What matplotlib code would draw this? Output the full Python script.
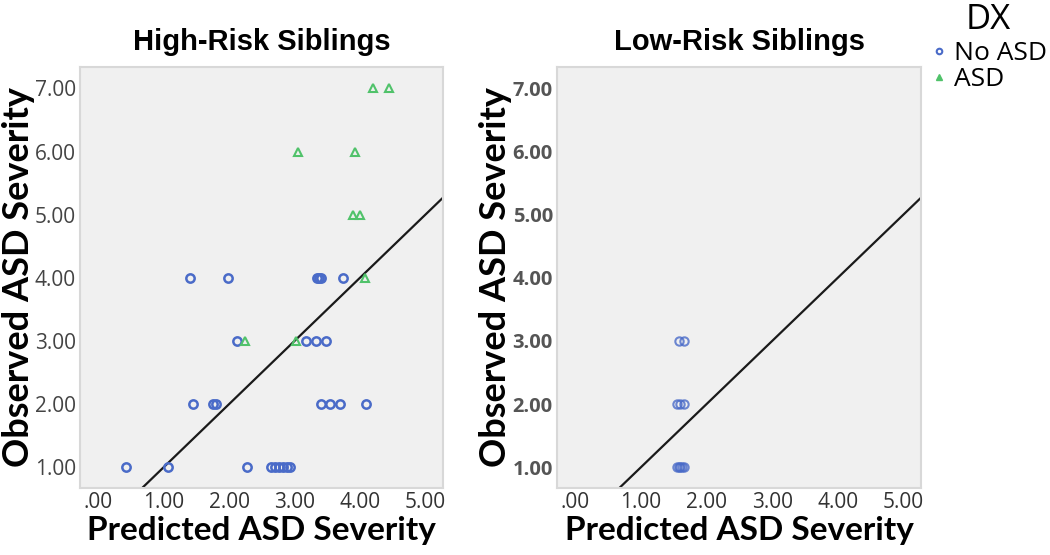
import matplotlib
matplotlib.use("Agg")
import matplotlib.pyplot as plt
from matplotlib.lines import Line2D

# High-risk siblings: predicted (x) vs observed (y)
hr_noasd_x = [0.42, 1.07, 2.28, 2.64, 2.70, 2.76, 2.82, 2.88, 2.93,
              1.45, 1.75, 1.80, 3.41, 3.54, 3.70, 4.10,
              2.12, 3.18, 3.33, 3.48,
              1.40, 1.98, 3.34, 3.37, 3.40, 3.74]
hr_noasd_y = [1, 1, 1, 1, 1, 1, 1, 1, 1,
              2, 2, 2, 2, 2, 2, 2,
              3, 3, 3, 3,
              4, 4, 4, 4, 4, 4]
hr_asd_x = [2.24, 3.03, 4.07, 3.90, 4.00, 3.05, 3.93, 4.20, 4.44]
hr_asd_y = [3, 3, 4, 5, 5, 6, 6, 7, 7]

# Low-risk siblings
lr_noasd_x = [1.55, 1.58, 1.60, 1.63, 1.66, 1.55, 1.60, 1.65, 1.58, 1.65]
lr_noasd_y = [1, 1, 1, 1, 1, 2, 2, 2, 3, 3]

ticks_x = [0, 1, 2, 3, 4, 5]
ticks_y = [1, 2, 3, 4, 5, 6, 7]
xlabels = [".00", "1.00", "2.00", "3.00", "4.00", "5.00"]
ylabels = ["1.00", "2.00", "3.00", "4.00", "5.00", "6.00", "7.00"]

blue = "#4a6bc8"
green = "#50c26a"

fig = plt.figure(figsize=(10.5, 5.55), dpi=100)
ax1 = fig.add_axes([0.0762, 0.1207, 0.3457, 0.7586])
ax2 = fig.add_axes([0.5305, 0.1207, 0.3467, 0.7586])

def style_axis(ax, title, ytick_kw):
    ax.set_facecolor("#f0f0f0")
    for s in ax.spines.values():
        s.set_color("#d8d8d8")
        s.set_linewidth(1.5)
    ax.set_xlim(-0.28, 5.27)
    ax.set_ylim(0.67, 7.34)
    ax.plot([-1, 8], [-1, 8], color="#1a1a1a", lw=1.6, zorder=2)  # y = x
    ax.set_xticks(ticks_x)
    ax.set_xticklabels(xlabels, fontsize=15, color="#333333", family="Open Sans")
    ax.set_yticks(ticks_y)
    ax.set_yticklabels(ylabels, **ytick_kw)
    ax.tick_params(length=0, pad=3)
    ax.set_title(title, fontsize=21, fontweight="bold", family="Liberation Sans",
                 pad=12)
    ax.set_xlabel("Predicted ASD Severity", fontsize=24, fontweight="bold",
                  family="Lato", labelpad=2)
    ax.set_ylabel("Observed ASD Severity", fontsize=26, fontweight="bold",
                  family="Lato", labelpad=0)

style_axis(ax1, "High-Risk Siblings",
           dict(fontsize=15, color="#444444", family="Open Sans"))
style_axis(ax2, "Low-Risk Siblings",
           dict(fontsize=14.5, color="#555555", fontweight="bold", family="Open Sans"))

ax1.plot(hr_noasd_x, hr_noasd_y, "o", ms=6, mfc="none", mec=blue, mew=1.8, zorder=3)
ax1.plot(hr_asd_x, hr_asd_y, "^", ms=6, mfc="none", mec=green, mew=1.5, zorder=3)
ax2.plot(lr_noasd_x, lr_noasd_y, "o", ms=6, mfc="none", mec=blue, mew=1.5,
         alpha=0.8, zorder=3)

# legend: title as separate text, entries as a figure legend
fig.text(0.941, 0.995, "DX", fontsize=25, family="Open Sans", ha="center", va="top")
handles = [Line2D([], [], ls="none", marker="o", ms=4, mfc="none", mec=blue, mew=1.5),
           Line2D([], [], ls="none", marker="^", ms=4, mfc=green, mec=green)]
leg = fig.legend(handles, ["No ASD", "ASD"], loc="upper left",
                 bbox_to_anchor=(0.873, 0.955), frameon=False,
                 prop={"family": "Open Sans", "size": 19},
                 handlelength=0.5, handletextpad=0.3, labelspacing=0.05,
                 borderpad=0.1)

fig.savefig("out.png", dpi=100)
